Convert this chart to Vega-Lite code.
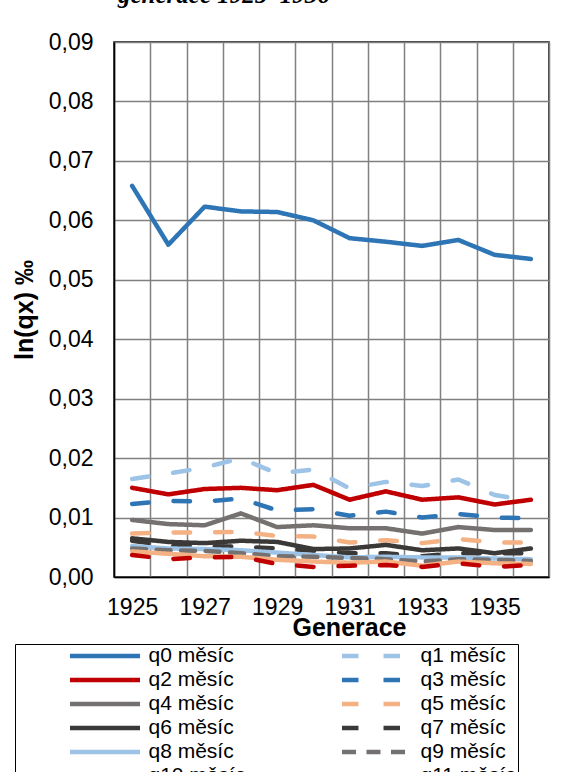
{
  "$schema": "https://vega.github.io/schema/vega-lite/v6.json",
  "width": 435,
  "height": 535,
  "autosize": {"type": "none"},
  "padding": {"left": 114, "top": 42, "right": 12, "bottom": 195},
  "background": "white",
  "config": {
    "font": "Liberation Sans",
    "view": {"stroke": "black", "strokeWidth": 1.5}
  },
  "title": {
    "text": "generace 1925–1936",
    "font": "Liberation Serif",
    "fontStyle": "italic",
    "fontWeight": "bold",
    "fontSize": 25,
    "color": "black",
    "anchor": "start",
    "frame": "group",
    "dx": 4,
    "offset": 23
  },
  "data": {
    "values": [
      {"s":"q0 měsíc","y":1925,"v":0.0658},{"s":"q0 měsíc","y":1926,"v":0.0559},{"s":"q0 měsíc","y":1927,"v":0.0623},{"s":"q0 měsíc","y":1928,"v":0.0615},{"s":"q0 měsíc","y":1929,"v":0.0614},{"s":"q0 měsíc","y":1930,"v":0.0600},{"s":"q0 měsíc","y":1931,"v":0.0570},{"s":"q0 měsíc","y":1932,"v":0.0564},{"s":"q0 měsíc","y":1933,"v":0.0557},{"s":"q0 měsíc","y":1934,"v":0.0567},{"s":"q0 měsíc","y":1935,"v":0.0542},{"s":"q0 měsíc","y":1936,"v":0.0535},
      {"s":"q1 měsíc","y":1925,"v":0.0165},{"s":"q1 měsíc","y":1926,"v":0.0174},{"s":"q1 měsíc","y":1927,"v":0.0184},{"s":"q1 měsíc","y":1928,"v":0.0200},{"s":"q1 měsíc","y":1929,"v":0.0174},{"s":"q1 měsíc","y":1930,"v":0.0181},{"s":"q1 měsíc","y":1931,"v":0.0149},{"s":"q1 měsíc","y":1932,"v":0.0160},{"s":"q1 měsíc","y":1933,"v":0.0153},{"s":"q1 měsíc","y":1934,"v":0.0164},{"s":"q1 měsíc","y":1935,"v":0.0138},{"s":"q1 měsíc","y":1936,"v":0.0128},
      {"s":"q2 měsíc","y":1925,"v":0.0150},{"s":"q2 měsíc","y":1926,"v":0.0139},{"s":"q2 měsíc","y":1927,"v":0.0148},{"s":"q2 měsíc","y":1928,"v":0.0150},{"s":"q2 měsíc","y":1929,"v":0.0146},{"s":"q2 měsíc","y":1930,"v":0.0155},{"s":"q2 měsíc","y":1931,"v":0.0130},{"s":"q2 měsíc","y":1932,"v":0.0144},{"s":"q2 měsíc","y":1933,"v":0.0130},{"s":"q2 měsíc","y":1934,"v":0.0134},{"s":"q2 měsíc","y":1935,"v":0.0122},{"s":"q2 měsíc","y":1936,"v":0.0130},
      {"s":"q3 měsíc","y":1925,"v":0.0123},{"s":"q3 měsíc","y":1926,"v":0.0128},{"s":"q3 měsíc","y":1927,"v":0.0127},{"s":"q3 měsíc","y":1928,"v":0.0132},{"s":"q3 měsíc","y":1929,"v":0.0112},{"s":"q3 měsíc","y":1930,"v":0.0114},{"s":"q3 měsíc","y":1931,"v":0.0103},{"s":"q3 měsíc","y":1932,"v":0.0110},{"s":"q3 měsíc","y":1933,"v":0.0100},{"s":"q3 měsíc","y":1934,"v":0.0106},{"s":"q3 měsíc","y":1935,"v":0.0100},{"s":"q3 měsíc","y":1936,"v":0.0099},
      {"s":"q4 měsíc","y":1925,"v":0.0096},{"s":"q4 měsíc","y":1926,"v":0.0089},{"s":"q4 měsíc","y":1927,"v":0.0087},{"s":"q4 měsíc","y":1928,"v":0.0107},{"s":"q4 měsíc","y":1929,"v":0.0084},{"s":"q4 měsíc","y":1930,"v":0.0087},{"s":"q4 měsíc","y":1931,"v":0.0082},{"s":"q4 měsíc","y":1932,"v":0.0082},{"s":"q4 měsíc","y":1933,"v":0.0073},{"s":"q4 měsíc","y":1934,"v":0.0084},{"s":"q4 měsíc","y":1935,"v":0.0079},{"s":"q4 měsíc","y":1936,"v":0.0079},
      {"s":"q5 měsíc","y":1925,"v":0.0073},{"s":"q5 měsíc","y":1926,"v":0.0075},{"s":"q5 měsíc","y":1927,"v":0.0075},{"s":"q5 měsíc","y":1928,"v":0.0076},{"s":"q5 měsíc","y":1929,"v":0.0069},{"s":"q5 měsíc","y":1930,"v":0.0068},{"s":"q5 měsíc","y":1931,"v":0.0058},{"s":"q5 měsíc","y":1932,"v":0.0062},{"s":"q5 měsíc","y":1933,"v":0.0057},{"s":"q5 měsíc","y":1934,"v":0.0064},{"s":"q5 měsíc","y":1935,"v":0.0058},{"s":"q5 měsíc","y":1936,"v":0.0058},
      {"s":"q6 měsíc","y":1925,"v":0.0065},{"s":"q6 měsíc","y":1926,"v":0.0059},{"s":"q6 měsíc","y":1927,"v":0.0057},{"s":"q6 měsíc","y":1928,"v":0.0061},{"s":"q6 měsíc","y":1929,"v":0.0059},{"s":"q6 měsíc","y":1930,"v":0.0047},{"s":"q6 měsíc","y":1931,"v":0.0048},{"s":"q6 měsíc","y":1932,"v":0.0054},{"s":"q6 měsíc","y":1933,"v":0.0045},{"s":"q6 měsíc","y":1934,"v":0.0048},{"s":"q6 měsíc","y":1935,"v":0.0040},{"s":"q6 měsíc","y":1936,"v":0.0048},
      {"s":"q7 měsíc","y":1925,"v":0.0061},{"s":"q7 měsíc","y":1926,"v":0.0052},{"s":"q7 měsíc","y":1927,"v":0.0052},{"s":"q7 měsíc","y":1928,"v":0.0051},{"s":"q7 měsíc","y":1929,"v":0.0048},{"s":"q7 měsíc","y":1930,"v":0.0044},{"s":"q7 měsíc","y":1931,"v":0.0040},{"s":"q7 měsíc","y":1932,"v":0.0040},{"s":"q7 měsíc","y":1933,"v":0.0035},{"s":"q7 měsíc","y":1934,"v":0.0040},{"s":"q7 měsíc","y":1935,"v":0.0040},{"s":"q7 měsíc","y":1936,"v":0.0040},
      {"s":"q8 měsíc","y":1925,"v":0.0052},{"s":"q8 měsíc","y":1926,"v":0.0048},{"s":"q8 měsíc","y":1927,"v":0.0047},{"s":"q8 měsíc","y":1928,"v":0.0045},{"s":"q8 měsíc","y":1929,"v":0.0041},{"s":"q8 měsíc","y":1930,"v":0.0037},{"s":"q8 měsíc","y":1931,"v":0.0033},{"s":"q8 měsíc","y":1932,"v":0.0034},{"s":"q8 měsíc","y":1933,"v":0.0033},{"s":"q8 měsíc","y":1934,"v":0.0033},{"s":"q8 měsíc","y":1935,"v":0.0031},{"s":"q8 měsíc","y":1936,"v":0.0030},
      {"s":"q9 měsíc","y":1925,"v":0.0048},{"s":"q9 měsíc","y":1926,"v":0.0045},{"s":"q9 měsíc","y":1927,"v":0.0044},{"s":"q9 měsíc","y":1928,"v":0.0040},{"s":"q9 měsíc","y":1929,"v":0.0035},{"s":"q9 měsíc","y":1930,"v":0.0034},{"s":"q9 měsíc","y":1931,"v":0.0032},{"s":"q9 měsíc","y":1932,"v":0.0030},{"s":"q9 měsíc","y":1933,"v":0.0026},{"s":"q9 měsíc","y":1934,"v":0.0030},{"s":"q9 měsíc","y":1935,"v":0.0029},{"s":"q9 měsíc","y":1936,"v":0.0027},
      {"s":"q10 měsíc","y":1925,"v":0.0043},{"s":"q10 měsíc","y":1926,"v":0.0039},{"s":"q10 měsíc","y":1927,"v":0.0035},{"s":"q10 měsíc","y":1928,"v":0.0034},{"s":"q10 měsíc","y":1929,"v":0.0029},{"s":"q10 měsíc","y":1930,"v":0.0026},{"s":"q10 měsíc","y":1931,"v":0.0024},{"s":"q10 měsíc","y":1932,"v":0.0026},{"s":"q10 měsíc","y":1933,"v":0.0019},{"s":"q10 měsíc","y":1934,"v":0.0026},{"s":"q10 měsíc","y":1935,"v":0.0023},{"s":"q10 měsíc","y":1936,"v":0.0022},
      {"s":"q11 měsíc","y":1925,"v":0.0037},{"s":"q11 měsíc","y":1926,"v":0.0030},{"s":"q11 měsíc","y":1927,"v":0.0033},{"s":"q11 měsíc","y":1928,"v":0.0034},{"s":"q11 měsíc","y":1929,"v":0.0022},{"s":"q11 měsíc","y":1930,"v":0.0017},{"s":"q11 měsíc","y":1931,"v":0.0019},{"s":"q11 měsíc","y":1932,"v":0.0020},{"s":"q11 měsíc","y":1933,"v":0.0017},{"s":"q11 měsíc","y":1934,"v":0.0023},{"s":"q11 měsíc","y":1935,"v":0.0017},{"s":"q11 měsíc","y":1936,"v":0.0020}
    ]
  },
  "mark": {"type": "line", "strokeWidth": 4.5, "strokeCap": "round", "strokeJoin": "round"},
  "encoding": {
    "x": {
      "field": "y",
      "type": "ordinal",
      "bandPosition": 0.5,
      "scale": {"type": "band", "paddingInner": 0, "paddingOuter": 0},
      "axis": {
        "title": "Generace",
        "titleFontSize": 25,
        "titleFontWeight": "bold",
        "titleColor": "black",
        "titleX": 235,
        "titleY": 58,
        "titleAlign": "center",
        "titleBaseline": "alphabetic",
        "labelAngle": 0,
        "labelFontSize": 23,
        "labelColor": "black",
        "labelPadding": 19,
        "labelExpr": "datum.value % 2 == 1 ? datum.label : ''",
        "ticks": false,
        "tickBand": "extent",
        "grid": true,
        "gridColor": "#808080",
        "gridWidth": 1.5,
        "domainColor": "black",
        "domainWidth": 1.5
      }
    },
    "y": {
      "field": "v",
      "type": "quantitative",
      "scale": {"domain": [0, 0.09], "nice": false, "zero": true},
      "axis": {
        "title": "ln(qx) ‰",
        "titleFontSize": 25,
        "titleFontWeight": "bold",
        "titleColor": "black",
        "titleAngle": 270,
        "titleX": -82,
        "titleY": 267.5,
        "titleAlign": "center",
        "titleBaseline": "alphabetic",
        "values": [0, 0.01, 0.02, 0.03, 0.04, 0.05, 0.06, 0.07, 0.08, 0.09],
        "labelExpr": "replace(format(datum.value, '.2f'), '.', ',')",
        "labelFontSize": 23,
        "labelColor": "black",
        "labelPadding": 21,
        "ticks": false,
        "grid": true,
        "gridColor": "#808080",
        "gridWidth": 1.5,
        "domainColor": "black",
        "domainWidth": 1.5
      }
    },
    "color": {
      "field": "s",
      "type": "nominal",
      "scale": {
        "domain": ["q0 měsíc","q2 měsíc","q4 měsíc","q6 měsíc","q8 měsíc","q10 měsíc","q1 měsíc","q3 měsíc","q5 měsíc","q7 měsíc","q9 měsíc","q11 měsíc"],
        "range": ["#2E75B6","#C00000","#767171","#3B3838","#9DC3E6","#F4B183","#9DC3E6","#2E75B6","#F4B183","#3B3838","#767171","#C00000"]
      },
      "legend": {
        "orient": "none", "legendX": -99, "legendY": 602, "columns": 2,
        "title": " ", "titleOrient": "left", "titlePadding": 51, "titleFontSize": 11,
        "padding": 1.5, "strokeColor": "black",
        "labelFontSize": 21, "labelColor": "black", "labelOffset": 6, "labelLimit": 0,
        "symbolType": "stroke", "symbolSize": 4900, "symbolStrokeWidth": 4.5,
        "clipHeight": 21, "rowPadding": 2, "columnPadding": 94
      }
    },
    "strokeDash": {
      "field": "s",
      "type": "nominal",
      "scale": {
        "domain": ["q0 měsíc","q2 měsíc","q4 měsíc","q6 měsíc","q8 měsíc","q10 měsíc","q1 měsíc","q3 měsíc","q5 měsíc","q7 měsíc","q9 měsíc","q11 měsíc"],
        "range": [[1,0],[1,0],[1,0],[1,0],[1,0],[1,0],[16.5,25],[16.5,25],[16.5,25],[16.5,25],[14,10.5],[16.5,25]]
      },
      "legend": {
        "orient": "none", "legendX": -99, "legendY": 602, "columns": 2,
        "title": " ", "titleOrient": "left", "titlePadding": 51, "titleFontSize": 11,
        "padding": 1.5, "strokeColor": "black",
        "labelFontSize": 21, "labelColor": "black", "labelOffset": 6, "labelLimit": 0,
        "symbolType": "stroke", "symbolSize": 4900, "symbolStrokeWidth": 4.5,
        "clipHeight": 21, "rowPadding": 2, "columnPadding": 94
      }
    }
  }
}
